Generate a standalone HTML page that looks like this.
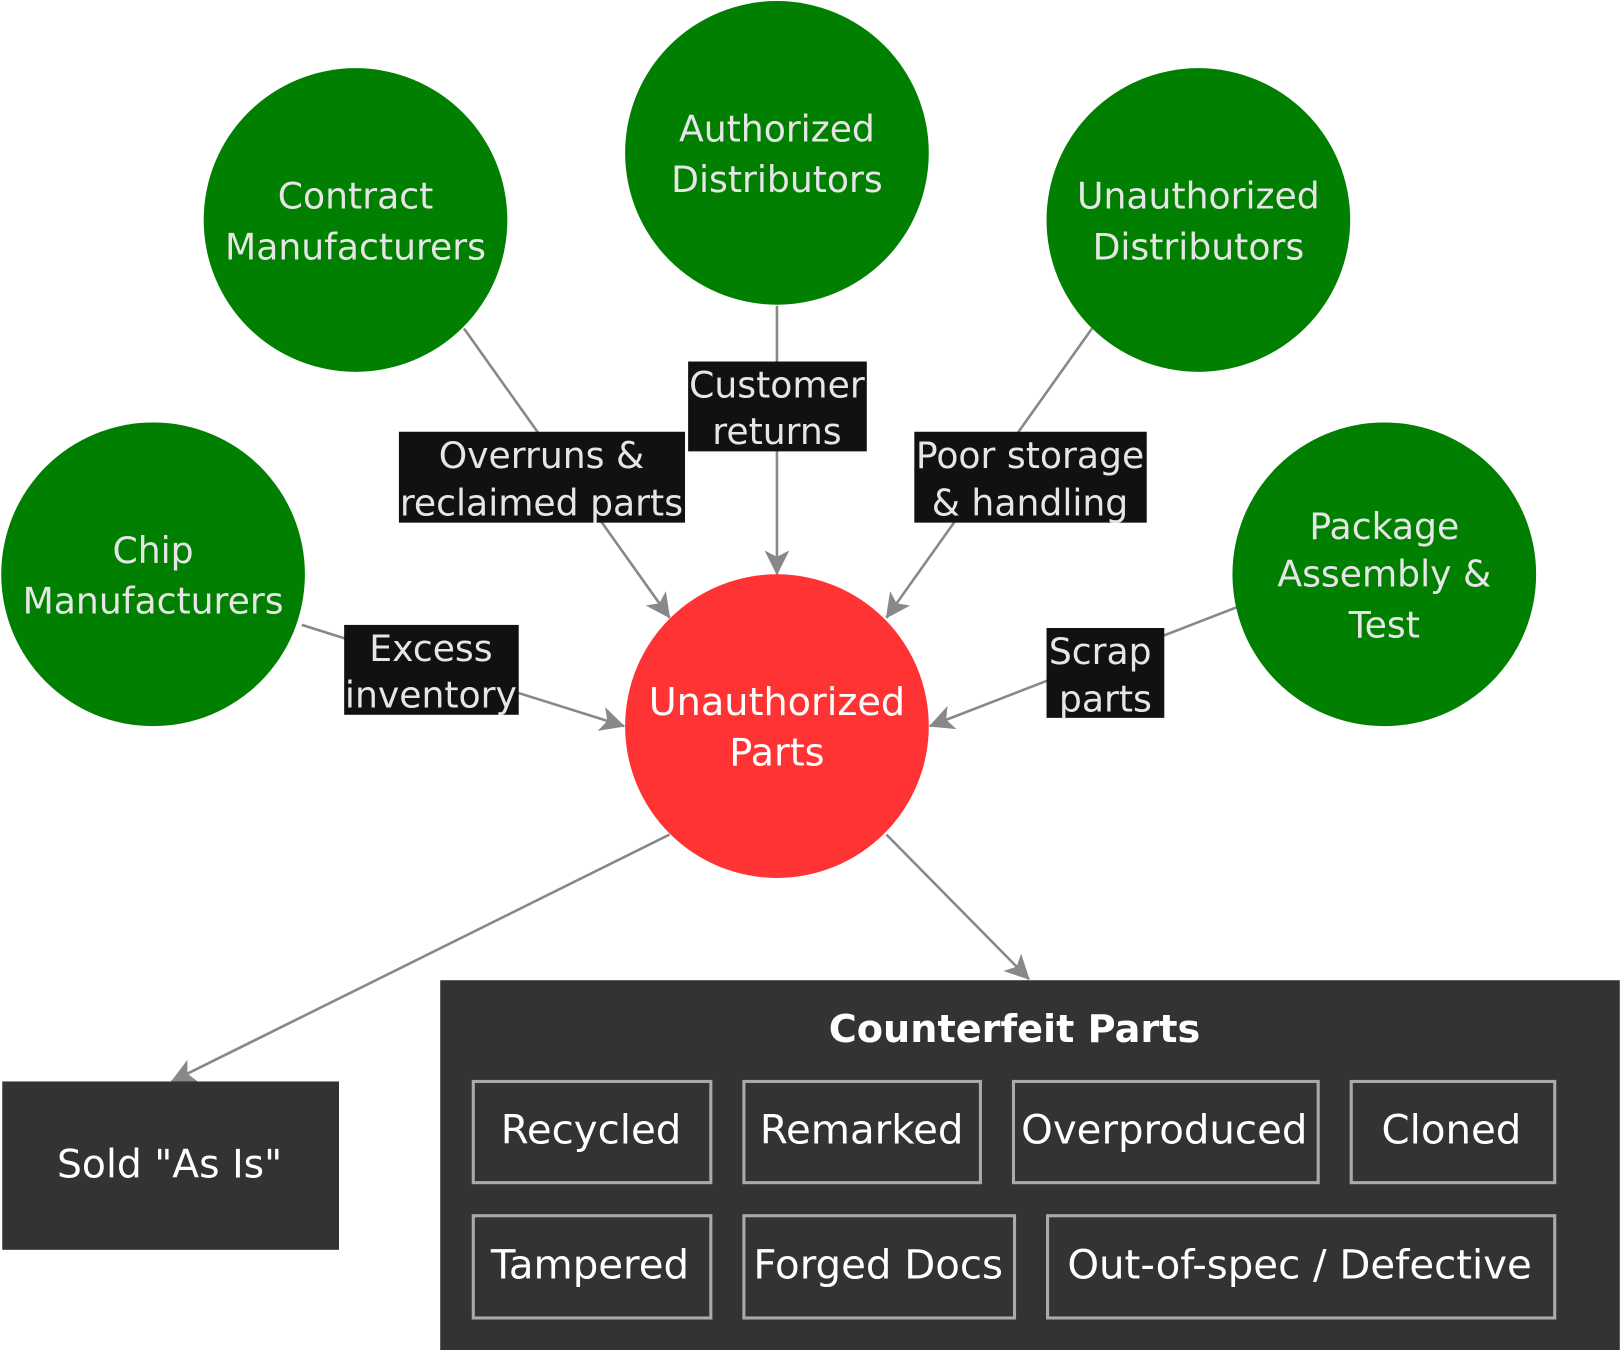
<!DOCTYPE html>
<html><head><meta charset="utf-8"><style>
html,body{margin:0;padding:0;background:#fff;}
svg{display:block;}
text{font-family:"DejaVu Sans","Liberation Sans",sans-serif;}
</style></head><body>
<svg width="1620" height="1350" viewBox="0 0 1568 1307" xmlns="http://www.w3.org/2000/svg">
<defs>
<marker id="a" viewBox="0 0 24 24" refX="23" refY="12" markerWidth="24" markerHeight="24" markerUnits="userSpaceOnUse" orient="auto">
<path d="M0,0 L24,12 L0,24 L6,12 Z" fill="#888"/>
</marker>
</defs>
<rect width="1568" height="1307" fill="#fff"/>
<g stroke="#888" stroke-width="2.5" fill="none" marker-end="url(#a)">
<line x1="449" y1="318" x2="648" y2="598"/>
<line x1="752" y1="296" x2="752" y2="556"/>
<line x1="1057" y1="318" x2="858" y2="598"/>
<line x1="292" y1="605" x2="604" y2="703"/>
<line x1="1197" y1="588" x2="900" y2="703"/>
<line x1="648" y1="808" x2="166" y2="1047"/>
<line x1="858" y1="808" x2="996" y2="948"/>
</g>
<g fill="#007f00">
<circle cx="752" cy="148" r="147"/>
<circle cx="344" cy="213" r="147"/>
<circle cx="1160" cy="213" r="147"/>
<circle cx="148" cy="556" r="147"/>
<circle cx="1340" cy="556" r="147"/>
</g>
<circle cx="752" cy="703" r="147" fill="#ff3333"/>
<g fill="#e6e6e6" font-size="35" text-anchor="middle">
<text x="752" y="137">Authorized</text><text x="752" y="186">Distributors</text>
<text x="344" y="202">Contract</text><text x="344" y="251">Manufacturers</text>
<text x="1160" y="202">Unauthorized</text><text x="1160" y="251">Distributors</text>
<text x="148" y="545">Chip</text><text x="148" y="594">Manufacturers</text>
<text x="1340" y="522">Package</text><text x="1340" y="568">Assembly &amp;</text><text x="1340" y="617">Test</text>
</g>
<g fill="#fff" font-size="37" text-anchor="middle">
<text x="752" y="692">Unauthorized</text><text x="752" y="741">Parts</text>
</g>
<g fill="#111">
<rect x="666" y="350" width="173" height="87"/>
<rect x="386" y="418" width="277" height="88"/>
<rect x="885" y="418" width="225" height="88"/>
<rect x="333" y="605" width="169" height="87"/>
<rect x="1013" y="608" width="114" height="87"/>
</g>
<g fill="#e6e6e6" font-size="35" text-anchor="middle">
<text x="752" y="385">Customer</text><text x="752" y="430">returns</text>
<text x="524" y="453">Overruns &amp;</text><text x="524" y="499">reclaimed parts</text>
<text x="997" y="453">Poor storage</text><text x="997" y="499">&amp; handling</text>
<text x="417" y="640">Excess</text><text x="417" y="685">inventory</text>
<text x="1065" y="643">Scrap</text><text x="1070" y="689">parts</text>
</g>
<rect x="2" y="1047" width="326" height="163" fill="#333"/>
<text x="164" y="1140" fill="#fff" font-size="38" text-anchor="middle">Sold "As Is"</text>
<rect x="426" y="949" width="1142" height="358" fill="#333"/>
<text x="982" y="1009" fill="#fff" font-size="37" font-weight="bold" text-anchor="middle">Counterfeit Parts</text>
<g fill="none" stroke="#aaa" stroke-width="3">
<rect x="458" y="1047" width="230" height="98"/>
<rect x="720" y="1047" width="229" height="98"/>
<rect x="981" y="1047" width="295" height="98"/>
<rect x="1308" y="1047" width="197" height="98"/>
<rect x="458" y="1177" width="230" height="99"/>
<rect x="720" y="1177" width="262" height="99"/>
<rect x="1014" y="1177" width="491" height="99"/>
</g>
<g fill="#fff" font-size="39" text-anchor="middle">
<text x="572" y="1107">Recycled</text>
<text x="834" y="1107">Remarked</text>
<text x="1127" y="1107">Overproduced</text>
<text x="1405" y="1107">Cloned</text>
<text x="571" y="1238">Tampered</text>
<text x="850" y="1238">Forged Docs</text>
<text x="1258" y="1238">Out-of-spec / Defective</text>
</g>
</svg>
</body></html>
